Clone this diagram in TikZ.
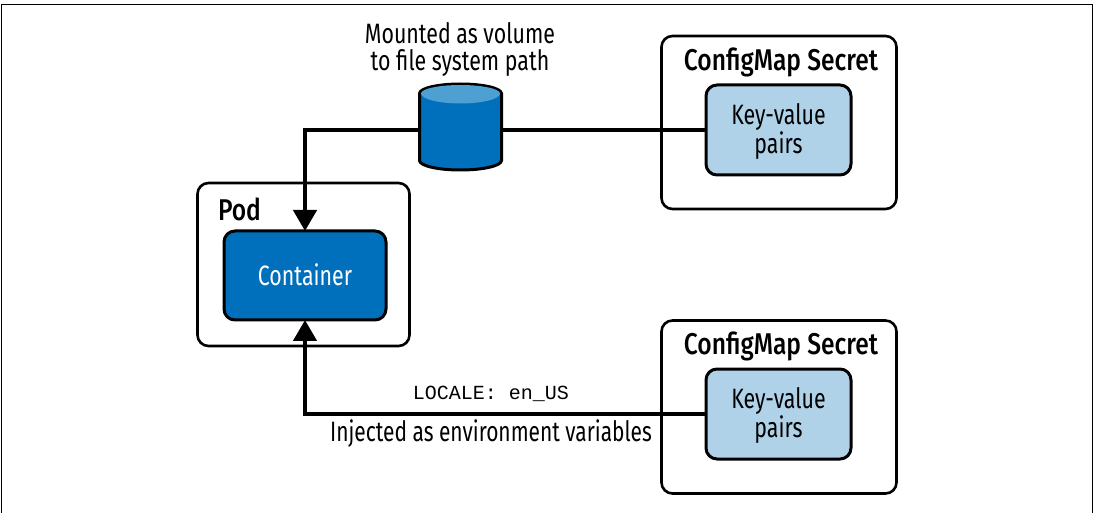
\documentclass[tikz,border=0pt]{standalone}
\usepackage{fontspec}
\setmainfont[FakeStretch=0.763]{Fira Sans}
\newfontfamily\medfont[FakeStretch=0.82]{Fira Sans Medium}
\setmonofont{Liberation Mono}
\usetikzlibrary{arrows.meta}
\definecolor{deepblue}{HTML}{0070BC}
\definecolor{paleblue}{HTML}{B0D2E9}
\definecolor{capblue}{HTML}{4E9FD2}
\tikzset{
  every node/.style={inner sep=0pt,outer sep=0pt},
  outerbox/.style={draw=black,line width=2.6pt,rounded corners=11pt,fill=white,anchor=north west},
  innerbox/.style={draw=black,line width=3pt,rounded corners=11pt,anchor=north west},
  link/.style={draw=black,line width=4.5pt},
  linkarrow/.style={link,-{Triangle[length=21pt,width=23pt]}},
  label/.style={font=\fontsize{28}{27.5}\selectfont,align=center,text=black},
  heading/.style={font=\medfont\fontsize{30}{30}\selectfont,text=black},
}
\begin{document}
\begin{tikzpicture}[x=1pt,y=-1pt]
\useasboundingbox (0,0) rectangle (1096,513);
\draw[line width=1.6pt] (1.5,513) -- (1.5,4.5) -- (1092.5,4.5) -- (1092.5,513);

\node[outerbox,minimum width=212pt,minimum height=163pt] (pod) at (197.5,183) {};
\node[innerbox,fill=deepblue,minimum width=162pt,minimum height=89pt] (cont) at (224,231) {};
\node[label,text=white] at ([yshift=1pt]cont.center) {Container};
\node[heading,anchor=west] (podlabel) at (218,209) {Pod};

\node[outerbox,minimum width=235pt,minimum height=173pt] (cfgtop) at (661.5,36) {};
\node[innerbox,fill=paleblue,minimum width=145pt,minimum height=90pt] (kvtop) at (706,85) {};
\node[label] at ([yshift=-1.5pt]kvtop.center) {Key-value\\pairs};
\node[heading] (cfgtoplabel) at (781,62) {ConfigMap Secret};

\node[outerbox,minimum width=235pt,minimum height=173pt] (cfgbot) at (661.5,320.5) {};
\node[innerbox,fill=paleblue,minimum width=145pt,minimum height=90pt] (kvbot) at (706,369) {};
\node[label] at ([yshift=-1.5pt]kvbot.center) {Key-value\\pairs};
\node[heading] (cfgbotlabel) at (781,346.5) {ConfigMap Secret};

\node[minimum width=85pt,minimum height=88pt] (vol) at (460.5,127) {};
\draw[link] (kvtop.west) -- (kvtop.west -| vol.east);
\draw[linkarrow] (kvtop.west -| vol.west) -| (cont.north);
\draw[line width=3pt,draw=black,fill=deepblue]
  (419.5,93.5) -- (419.5,160.5) arc[start angle=180,end angle=0,x radius=41,y radius=9.5]
  -- (501.5,93.5) arc[start angle=0,end angle=-180,x radius=41,y radius=9.5] -- cycle;
\fill[capblue] (421,93.5) arc[start angle=180,end angle=0,x radius=39.5,y radius=10]
  arc[start angle=0,end angle=-180,x radius=39.5,y radius=8.5] -- cycle;

\node[label] (mounted) at (460,49.5) {Mounted as volume\\to file system path};
\node[font=\ttfamily\fontsize{20}{22}\selectfont] (locale) at (491,394) {LOCALE: en\_US};
\node[label,xscale=0.98] (injected) at (491,433.5) {Injected as environment variables};

\draw[linkarrow] (kvbot.west) -| (cont.south);
\end{tikzpicture}
\end{document}
